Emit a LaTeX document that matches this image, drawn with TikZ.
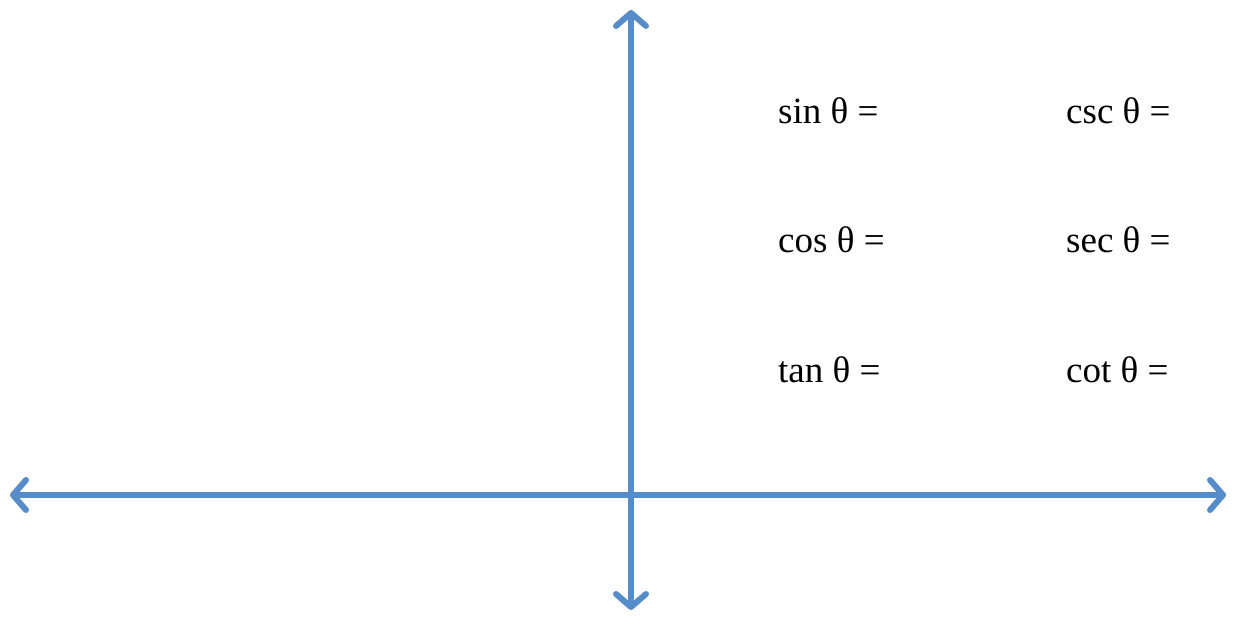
\documentclass[tikz,border=0pt]{standalone}
\usepackage{fontspec}
\setmainfont{Liberation Serif}
\usetikzlibrary{arrows.meta}
\definecolor{axisblue}{RGB}{86,140,199}
\begin{document}
\begin{tikzpicture}[x=1pt,y=-1pt,
  axis/.style={draw=axisblue,line width=5.5pt,
    arrows={Straight Barb[round,length=13pt,width=30pt,line width=6pt]-Straight Barb[round,length=13pt,width=30pt,line width=6pt]}},
  lbl/.style={anchor=base west,inner sep=0pt,font=\fontsize{37}{40}\selectfont}]
\useasboundingbox (0,0) rectangle (1233,617);
\coordinate (xl) at (10,495);
\coordinate (xr) at (1226,495);
\coordinate (yt) at (631,10);
\coordinate (yb) at (631,610);
\draw[axis] (xl) -- (xr);
\draw[axis] (yb) -- (yt);
\node[lbl] (sin) at (778,124) {sin θ =};
\node[lbl] (csc) at (1066,124) {csc θ =};
\node[lbl] (cos) at (778,253) {cos θ =};
\node[lbl] (sec) at (1066,253) {sec θ =};
\node[lbl] (tan) at (778,382) {tan θ =};
\node[lbl] (cot) at (1066,382) {cot θ =};
\end{tikzpicture}
\end{document}
